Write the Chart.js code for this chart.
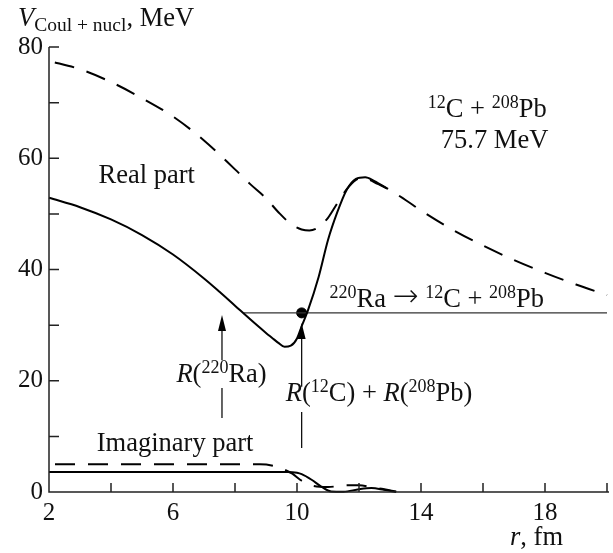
<!DOCTYPE html>
<html>
<head>
<meta charset="utf-8">
<script src="https://cdn.jsdelivr.net/npm/chart.js@4/dist/chart.umd.min.js"></script>
<style>
  html, body { margin: 0; padding: 0; background: #fff; }
  canvas { display: block; }
</style>
</head>
<body>
<canvas id="chart" width="613" height="553"></canvas>
<script>
// Interaction potential V(r), MeV, vs distance r, fm  (12C + 208Pb, 75.7 MeV)

// Real part, dashed potential
const realDashR = [2, 3, 4, 5, 6, 7, 8, 8.5, 9, 9.4, 9.8, 10.15, 10.4, 10.7, 11.0, 11.3, 11.6, 11.9, 12.1, 12.3, 12.6, 12.9, 13.5, 14, 15, 16, 17, 18, 19, 20];
const realDashV = [77.5, 76, 73.7, 70.8, 67.5, 63.2, 58, 55.3, 52.8, 50.3, 48.2, 47.2, 47.0, 47.6, 49.3, 51.9, 54.4, 56.1, 56.5, 56.2, 55.4, 54.6, 52.5, 50.6, 47.2, 44.3, 41.7, 39.4, 37.3, 35.4];

// Real part, solid potential
const realSolidR = [2, 3, 4, 5, 6, 7, 7.5, 8, 8.5, 9.0, 9.2, 9.4, 9.6, 9.8, 10.0, 10.15, 10.35, 10.7, 11.0, 11.3, 11.6, 11.9, 12.2, 12.5, 12.9];
const realSolidV = [52.9, 51.2, 49.0, 46.2, 42.7, 38.4, 36.0, 33.5, 31.0, 28.6, 27.7, 26.8, 26.1, 26.3, 27.6, 29.8, 32.6, 38.7, 45.3, 50.3, 54.3, 56.3, 56.6, 55.9, 54.6];

// Imaginary part, dashed
const imagDashR = [2, 8.8, 9.25, 9.6, 9.85, 10.1, 10.4, 11.0, 11.6, 12.0, 12.4, 12.9, 13.2];
const imagDashV = [5.0, 5.0, 4.7, 4.0, 3.3, 2.2, 1.3, 0.9, 1.2, 1.2, 0.9, 0.4, 0.1];

// Imaginary part, solid
const imagSolidR = [2, 9.7, 10.0, 10.15, 10.47, 10.8, 11.1, 11.5, 12.0, 12.4, 12.8, 13.2];
const imagSolidV = [3.6, 3.6, 3.45, 3.2, 2.2, 0.9, 0.1, 0.05, 0.5, 0.7, 0.4, 0.0];

// Decay energy of 220Ra -> 12C + 208Pb and the marked radii
const qValue = 32.2;
const qLineStartR = 8.29;
const touchPointR = 10.15;
const radiusRa = 7.58;        // R(220Ra)
const radiusSum = 10.15;      // R(12C) + R(208Pb)

// Axis ticks
const xTicks = [2, 4, 6, 8, 10, 12, 14, 16, 18, 20];
const xTickLabels = [2, 6, 10, 14, 18];
const yTicks = [0, 10, 20, 30, 40, 50, 60, 70, 80];
const yTickLabels = [0, 20, 40, 60, 80];

const SERIF = '"Liberation Serif", "Times New Roman", serif';
const ARROW_FONT = '"DejaVu Sans ExtraLight", "DejaVu Sans", sans-serif';
const TICK = 25, MAIN = 26.5, SUP = 18, SUB = 19.5;

const pts = (rs, vs) => rs.map((r, i) => ({ x: r, y: vs[i] }));

// Text runs: [text, size, italic, raise, family, weight]
function drawRuns(ctx, x, y, runs) {
  let cx = x;
  for (const [t, size, italic, raise, family, weight] of runs) {
    ctx.font = (italic ? 'italic ' : '') + (weight ? weight + ' ' : '') + size + 'px ' + (family || SERIF);
    ctx.fillText(t, cx, y - (raise || 0));
    cx += ctx.measureText(t).width;
  }
  return cx;
}

function arrow(ctx, xs, yTip, yEnd) {
  ctx.beginPath();
  ctx.moveTo(xs, yTip + 10);
  ctx.lineTo(xs, yEnd);
  ctx.stroke();
  ctx.beginPath();
  ctx.moveTo(xs, yTip);
  ctx.lineTo(xs - 4, yTip + 16);
  ctx.lineTo(xs + 4, yTip + 16);
  ctx.closePath();
  ctx.fill();
}

const frame = {
  id: 'frame',
  afterDraw(chart) {
    const { ctx, chartArea: a, scales: { x, y } } = chart;
    ctx.save();
    ctx.strokeStyle = '#222';
    ctx.fillStyle = '#000';
    ctx.lineWidth = 1.5;
    ctx.beginPath();
    ctx.moveTo(a.left, a.top);
    ctx.lineTo(a.left, a.bottom);
    ctx.lineTo(a.right + 2, a.bottom);
    for (const v of yTicks) {
      const py = y.getPixelForValue(v);
      ctx.moveTo(a.left, py); ctx.lineTo(a.left + 10, py);
    }
    for (const v of xTicks) {
      const px = x.getPixelForValue(v);
      ctx.moveTo(px, a.bottom); ctx.lineTo(px, a.bottom - 9);
    }
    ctx.stroke();

    // arrows marking the radii
    ctx.lineWidth = 1.3;
    ctx.strokeStyle = '#111';
    const xa = x.getPixelForValue(radiusRa);
    arrow(ctx, xa, y.getPixelForValue(31.8), y.getPixelForValue(23.7));
    ctx.beginPath();
    ctx.moveTo(xa, y.getPixelForValue(18.7)); ctx.lineTo(xa, y.getPixelForValue(13.3));
    ctx.stroke();
    const xb = x.getPixelForValue(radiusSum);
    arrow(ctx, xb, y.getPixelForValue(30.4), y.getPixelForValue(18.9));
    ctx.beginPath();
    ctx.moveTo(xb, y.getPixelForValue(14.4)); ctx.lineTo(xb, y.getPixelForValue(7.9));
    ctx.stroke();

    // labels
    ctx.fillStyle = '#111';
    ctx.textBaseline = 'alphabetic';
    ctx.textAlign = 'left';
    const at = (r, v) => [x.getPixelForValue(r), y.getPixelForValue(v)];

    // y axis title
    drawRuns(ctx, 18, 26, [['V', MAIN, true, 0], ['Coul + nucl', SUB, false, -5], [', MeV', MAIN, false, 0]]);
    // x axis title
    drawRuns(ctx, 510, 545, [['r', MAIN, true, 0], [', fm', MAIN, false, 0]]);

    let p = at(3.6, 55.55);
    drawRuns(ctx, p[0], p[1], [['Real part', MAIN, false, 0]]);
    p = at(3.54, 7.37);
    drawRuns(ctx, p[0], p[1], [['Imaginary part', MAIN, false, 0]]);
    p = at(14.22, 67.4);
    drawRuns(ctx, p[0], p[1], [['12', SUP, false, 9], ['C + ', MAIN, false, 0], ['208', SUP, false, 9], ['Pb', MAIN, false, 0]]);
    p = at(14.64, 61.8);
    drawRuns(ctx, p[0], p[1], [['75.7 MeV', MAIN, false, 0]]);
    p = at(11.05, 33.26);
    drawRuns(ctx, p[0], p[1], [['220', SUP, false, 9], ['Ra ', MAIN, false, 0], ['\u2192', 31, false, 1, ARROW_FONT, 200], [' ', MAIN, false, 0], ['12', SUP, false, 9], ['C + ', MAIN, false, 0], ['208', SUP, false, 9], ['Pb', MAIN, false, 0]]);
    p = at(6.11, 19.78);
    drawRuns(ctx, p[0], p[1], [['R', MAIN, true, 0], ['(', MAIN, false, 0], ['220', SUP, false, 9], ['Ra)', MAIN, false, 0]]);
    p = at(9.64, 16.36);
    drawRuns(ctx, p[0], p[1], [['R', MAIN, true, 0], ['(', MAIN, false, 0], ['12', SUP, false, 9], ['C) + ', MAIN, false, 0], ['R', MAIN, true, 0], ['(', MAIN, false, 0], ['208', SUP, false, 9], ['Pb)', MAIN, false, 0]]);
    ctx.restore();
  }
};

const curve = (data, dashed, width) => ({
  data,
  borderColor: '#000',
  borderWidth: width || 2,
  borderDash: dashed ? [20, 13] : [],
  borderDashOffset: dashed ? 27 : 0,
  borderCapStyle: 'butt',
  pointRadius: 0,
  fill: false,
  cubicInterpolationMode: 'monotone',
  clip: 4
});

new Chart(document.getElementById('chart'), {
  type: 'line',
  data: {
    datasets: [
      curve(pts(realDashR, realDashV), true),
      curve(pts(realSolidR, realSolidV), false),
      curve(pts(imagDashR, imagDashV), true),
      curve(pts(imagSolidR, imagSolidV), false),
      Object.assign(curve(pts([qLineStartR, 20], [qValue, qValue]), false, 1.3), { borderColor: '#333' }),
      {
        type: 'scatter',
        data: [{ x: touchPointR, y: qValue }],
        pointRadius: 5,
        pointBackgroundColor: '#000',
        pointBorderColor: '#000',
        showLine: false
      }
    ]
  },
  options: {
    responsive: false,
    animation: false,
    events: [],
    layout: { padding: { top: 47, right: 3, left: 0, bottom: 0 } },
    plugins: { legend: { display: false }, tooltip: { enabled: false } },
    scales: {
      x: {
        type: 'linear',
        min: 2, max: 20,
        afterFit: s => { s.height = 61; },
        grid: { display: false, drawTicks: false },
        border: { display: false },
        ticks: {
          stepSize: 2, autoSkip: false, maxRotation: 0, padding: 6,
          color: '#111',
          font: { family: SERIF, size: TICK },
          callback: v => xTickLabels.includes(v) ? String(v) : ''
        }
      },
      y: {
        type: 'linear',
        min: 0, max: 80,
        afterFit: s => { s.width = 49; },
        grid: { display: false, drawTicks: false },
        border: { display: false },
        ticks: {
          stepSize: 10, autoSkip: false, padding: 6,
          color: '#111',
          font: { family: SERIF, size: TICK },
          callback: v => yTickLabels.includes(v) ? String(v) : ''
        }
      }
    }
  },
  plugins: [frame]
});
</script>
</body>
</html>
